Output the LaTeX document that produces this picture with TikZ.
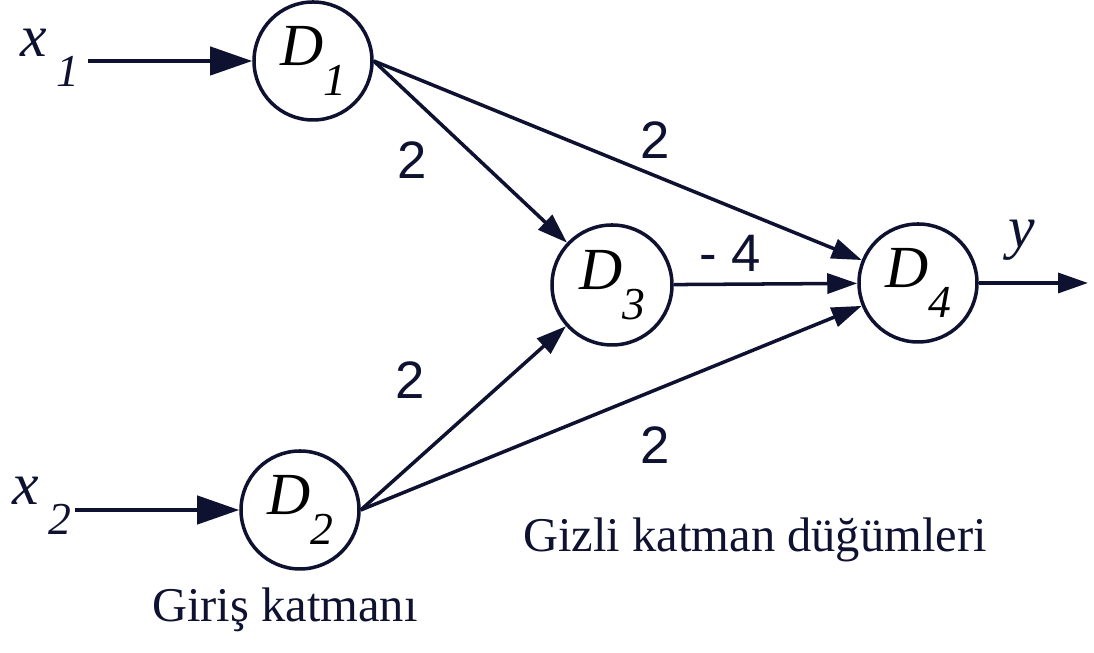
\documentclass[tikz,border=0pt]{standalone}
\usepackage{fontspec}
\setmainfont{Liberation Serif}
\newfontfamily\weightfont{Liberation Sans}
\usetikzlibrary{arrows.meta,positioning}
\definecolor{inkc}{HTML}{0E1230}
\newcommand{\dnode}[1]{\textit{D}\raisebox{-0.5em}{\fontsize{13}{15}\selectfont\itshape #1}}
\newcommand{\xin}[1]{\textit{x}\,\raisebox{-0.5em}{\fontsize{13}{15}\selectfont\itshape #1}}
\tikzset{
  neuron/.style={circle, draw=inkc, line width=1pt, minimum size=1.18cm, inner sep=0pt, font=\fontsize{17}{20}\selectfont},
  link/.style={draw=inkc, line width=1pt, -{Triangle[length=0.3cm, width=0.2cm]}},
  inlink/.style={draw=inkc, line width=1.2pt, -{Triangle[length=0.42cm, width=0.28cm]}},
  wlabel/.style={font=\weightfont\fontsize{15}{17}\selectfont, text=inkc},
  caption/.style={font=\fontsize{13.8}{16}\selectfont, text=inkc}
}

\begin{document}
\begin{tikzpicture}
  \useasboundingbox (0,0) rectangle (10.94,6.53);
  \node[neuron] (d1) at (3.13,5.92) {\dnode{1}};
  \node[neuron] (d2) at (3.00,1.43) {\dnode{2}};
  \node[neuron, minimum size=1.2cm] (d3) at (6.12,3.68) {\dnode{3}};
  \node[neuron] (d4) at (9.18,3.70) {\dnode{4}};
  \node[text=inkc, font=\fontsize{17}{20}\selectfont] (x1) at (0.50,5.95) {\xin{1}};
  \node[text=inkc, font=\fontsize{17}{20}\selectfont] (x2) at (0.42,1.47) {\xin{2}};
  \node[text=inkc, font=\fontsize{17}{20}\selectfont] (yout) at (10.22,4.13) {\textit{y}};
  \coordinate (x1s) at (0.88,5.92);
  \coordinate (x2s) at (0.75,1.43);
  \coordinate (ye) at (10.88,3.70);
  % inputs
  \draw[inlink] (x1s) -- (d1);
  \draw[inlink] (x2s) -- (d2);
  % weighted links
  \draw[link] (d1.east) -- (d3);
  \draw[link] (d1.east) -- (d4);
  \draw[link] (d2.east) -- (d3);
  \draw[link] (d2.east) -- (d4);
  \draw[link] (d3) -- (d4);
  \draw[link] (d4.east) -- (ye);
  \node[wlabel] (w13) at (4.12,4.93) {2};
  \node[wlabel] (w14) at (6.55,5.13) {2};
  \node[wlabel] (w34) at (7.30,4.00) {- 4};
  \node[wlabel] (w23) at (4.10,2.73) {2};
  \node[wlabel] (w24) at (6.55,2.08) {2};
  \node[caption] (hid) at (7.55,1.13) {Gizli katman düğümleri};
  \node[caption] (inp) at (2.85,0.43) {Giriş katmanı};
\end{tikzpicture}
\end{document}
